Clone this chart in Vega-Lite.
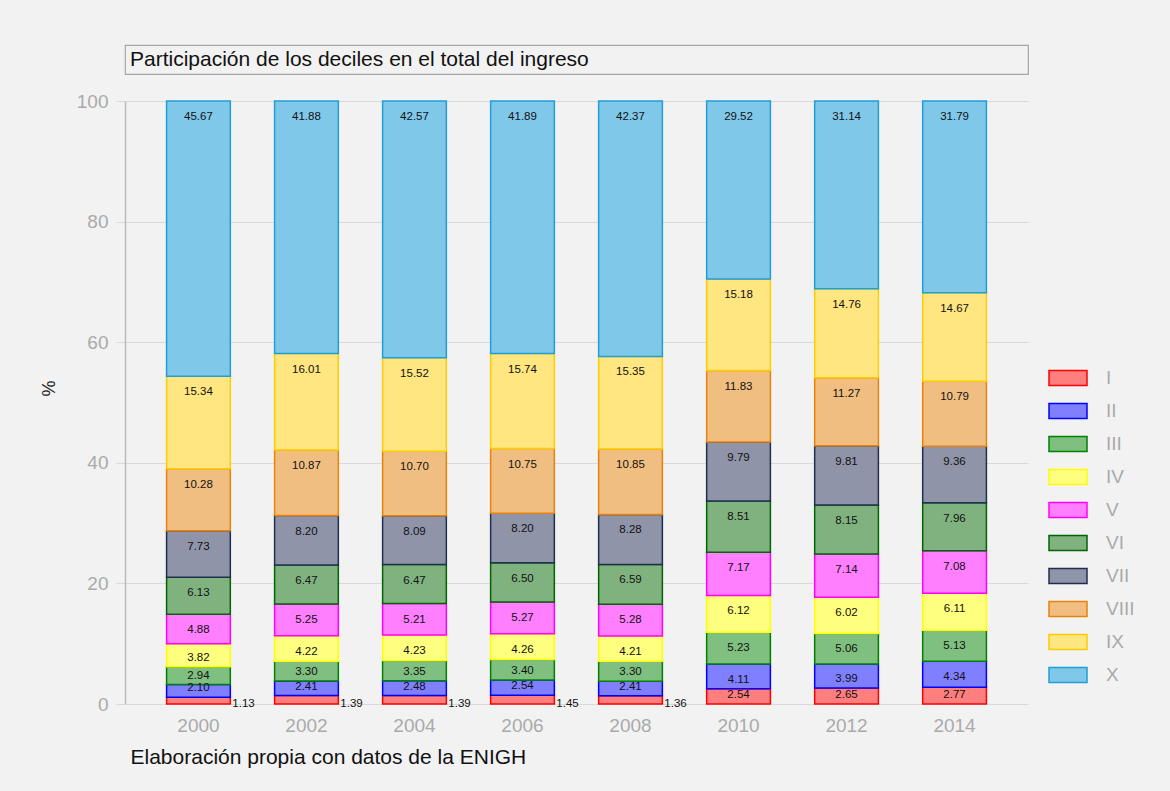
{
  "$schema": "https://vega.github.io/schema/vega-lite/v6.json",
  "background": "#f2f2f2",
  "padding": {"left": 40, "top": 44, "right": 35, "bottom": 24},
  "config": {
    "font": "Liberation Sans",
    "view": {"stroke": null}
  },
  "spacing": 17,
  "vconcat": [
    {
      "width": 903,
      "height": 29,
      "view": {"stroke": "#a6a6a6", "strokeWidth": 1.2},
      "data": {"values": [{"t": "Participación de los deciles en el total del ingreso"}]},
      "mark": {"type": "text", "align": "left", "baseline": "middle", "fontSize": 21, "color": "#111111", "dx": 5},
      "encoding": {
        "x": {"datum": 0, "type": "quantitative", "scale": {"domain": [0, 1]}, "axis": null},
        "text": {"field": "t"}
      }
    },
    {
      "width": 903,
      "height": 603,
      "data": {"values": [
        {"year": "2000", "decile": "I", "n": 1, "value": 1.13},
        {"year": "2000", "decile": "II", "n": 2, "value": 2.10},
        {"year": "2000", "decile": "III", "n": 3, "value": 2.94},
        {"year": "2000", "decile": "IV", "n": 4, "value": 3.82},
        {"year": "2000", "decile": "V", "n": 5, "value": 4.88},
        {"year": "2000", "decile": "VI", "n": 6, "value": 6.13},
        {"year": "2000", "decile": "VII", "n": 7, "value": 7.73},
        {"year": "2000", "decile": "VIII", "n": 8, "value": 10.28},
        {"year": "2000", "decile": "IX", "n": 9, "value": 15.34},
        {"year": "2000", "decile": "X", "n": 10, "value": 45.67},
        {"year": "2002", "decile": "I", "n": 1, "value": 1.39},
        {"year": "2002", "decile": "II", "n": 2, "value": 2.41},
        {"year": "2002", "decile": "III", "n": 3, "value": 3.30},
        {"year": "2002", "decile": "IV", "n": 4, "value": 4.22},
        {"year": "2002", "decile": "V", "n": 5, "value": 5.25},
        {"year": "2002", "decile": "VI", "n": 6, "value": 6.47},
        {"year": "2002", "decile": "VII", "n": 7, "value": 8.20},
        {"year": "2002", "decile": "VIII", "n": 8, "value": 10.87},
        {"year": "2002", "decile": "IX", "n": 9, "value": 16.01},
        {"year": "2002", "decile": "X", "n": 10, "value": 41.88},
        {"year": "2004", "decile": "I", "n": 1, "value": 1.39},
        {"year": "2004", "decile": "II", "n": 2, "value": 2.48},
        {"year": "2004", "decile": "III", "n": 3, "value": 3.35},
        {"year": "2004", "decile": "IV", "n": 4, "value": 4.23},
        {"year": "2004", "decile": "V", "n": 5, "value": 5.21},
        {"year": "2004", "decile": "VI", "n": 6, "value": 6.47},
        {"year": "2004", "decile": "VII", "n": 7, "value": 8.09},
        {"year": "2004", "decile": "VIII", "n": 8, "value": 10.70},
        {"year": "2004", "decile": "IX", "n": 9, "value": 15.52},
        {"year": "2004", "decile": "X", "n": 10, "value": 42.57},
        {"year": "2006", "decile": "I", "n": 1, "value": 1.45},
        {"year": "2006", "decile": "II", "n": 2, "value": 2.54},
        {"year": "2006", "decile": "III", "n": 3, "value": 3.40},
        {"year": "2006", "decile": "IV", "n": 4, "value": 4.26},
        {"year": "2006", "decile": "V", "n": 5, "value": 5.27},
        {"year": "2006", "decile": "VI", "n": 6, "value": 6.50},
        {"year": "2006", "decile": "VII", "n": 7, "value": 8.20},
        {"year": "2006", "decile": "VIII", "n": 8, "value": 10.75},
        {"year": "2006", "decile": "IX", "n": 9, "value": 15.74},
        {"year": "2006", "decile": "X", "n": 10, "value": 41.89},
        {"year": "2008", "decile": "I", "n": 1, "value": 1.36},
        {"year": "2008", "decile": "II", "n": 2, "value": 2.41},
        {"year": "2008", "decile": "III", "n": 3, "value": 3.30},
        {"year": "2008", "decile": "IV", "n": 4, "value": 4.21},
        {"year": "2008", "decile": "V", "n": 5, "value": 5.28},
        {"year": "2008", "decile": "VI", "n": 6, "value": 6.59},
        {"year": "2008", "decile": "VII", "n": 7, "value": 8.28},
        {"year": "2008", "decile": "VIII", "n": 8, "value": 10.85},
        {"year": "2008", "decile": "IX", "n": 9, "value": 15.35},
        {"year": "2008", "decile": "X", "n": 10, "value": 42.37},
        {"year": "2010", "decile": "I", "n": 1, "value": 2.54},
        {"year": "2010", "decile": "II", "n": 2, "value": 4.11},
        {"year": "2010", "decile": "III", "n": 3, "value": 5.23},
        {"year": "2010", "decile": "IV", "n": 4, "value": 6.12},
        {"year": "2010", "decile": "V", "n": 5, "value": 7.17},
        {"year": "2010", "decile": "VI", "n": 6, "value": 8.51},
        {"year": "2010", "decile": "VII", "n": 7, "value": 9.79},
        {"year": "2010", "decile": "VIII", "n": 8, "value": 11.83},
        {"year": "2010", "decile": "IX", "n": 9, "value": 15.18},
        {"year": "2010", "decile": "X", "n": 10, "value": 29.52},
        {"year": "2012", "decile": "I", "n": 1, "value": 2.65},
        {"year": "2012", "decile": "II", "n": 2, "value": 3.99},
        {"year": "2012", "decile": "III", "n": 3, "value": 5.06},
        {"year": "2012", "decile": "IV", "n": 4, "value": 6.02},
        {"year": "2012", "decile": "V", "n": 5, "value": 7.14},
        {"year": "2012", "decile": "VI", "n": 6, "value": 8.15},
        {"year": "2012", "decile": "VII", "n": 7, "value": 9.81},
        {"year": "2012", "decile": "VIII", "n": 8, "value": 11.27},
        {"year": "2012", "decile": "IX", "n": 9, "value": 14.76},
        {"year": "2012", "decile": "X", "n": 10, "value": 31.14},
        {"year": "2014", "decile": "I", "n": 1, "value": 2.77},
        {"year": "2014", "decile": "II", "n": 2, "value": 4.34},
        {"year": "2014", "decile": "III", "n": 3, "value": 5.13},
        {"year": "2014", "decile": "IV", "n": 4, "value": 6.11},
        {"year": "2014", "decile": "V", "n": 5, "value": 7.08},
        {"year": "2014", "decile": "VI", "n": 6, "value": 7.96},
        {"year": "2014", "decile": "VII", "n": 7, "value": 9.36},
        {"year": "2014", "decile": "VIII", "n": 8, "value": 10.79},
        {"year": "2014", "decile": "IX", "n": 9, "value": 14.67},
        {"year": "2014", "decile": "X", "n": 10, "value": 31.79}
      ]},
      "transform": [
        {"stack": "value", "groupby": ["year"], "sort": [{"field": "n", "order": "ascending"}], "as": ["y0", "y1"]}
      ],
      "encoding": {
        "x": {
          "field": "year", "type": "ordinal",
          "scale": {"paddingInner": 0.41, "paddingOuter": 0.385},
          "axis": {
            "labelAngle": 0, "labelColor": "#aaaaaa", "labelFontSize": 19, "labelPadding": 12,
            "ticks": false, "domain": false,
            "title": "Elaboración propia con datos de la ENIGH",
            "titleColor": "#111111", "titleFontSize": 21, "titleFontWeight": "normal",
            "titleAnchor": "start", "titleAlign": "left", "titleX": 5, "titlePadding": 11
          }
        }
      },
      "layer": [
        {
          "mark": {"type": "bar", "strokeWidth": 1.5},
          "encoding": {
            "y": {
              "field": "y1", "type": "quantitative",
              "scale": {"domain": [0, 100], "nice": false},
              "axis": {
                "values": [0, 20, 40, 60, 80, 100],
                "labelColor": "#aaaaaa", "labelFontSize": 19, "labelPadding": 8,
                "tickSize": 9, "tickColor": "#d9d9d9",
                "domainColor": "#bbbbbb", "domainWidth": 1.5,
                "gridColor": "#d9d9d9",
                "title": "%", "titleColor": "#222222", "titleFontSize": 18, "titleFontWeight": "normal", "titlePadding": 18, "titleY": 287
              }
            },
            "y2": {"field": "y0"},
            "fill": {
              "field": "decile", "type": "nominal",
              "scale": {
                "domain": ["I", "II", "III", "IV", "V", "VI", "VII", "VIII", "IX", "X"],
                "range": ["#ff7f7f", "#7f7fff", "#7fbf7f", "#ffff7f", "#ff7fff", "#80b280", "#8f94a8", "#f0be80", "#ffe680", "#80c8ea"]
              },
              "legend": {
                "title": null, "orient": "none", "legendX": 923, "legendY": 313,
                "symbolType": "M-1,-0.4H1V0.4H-1Z", "symbolSize": 1444, "symbolStrokeWidth": 1.5,
                "labelColor": "#aaaaaa", "labelFontSize": 19, "labelOffset": 18, "rowPadding": 2
              }
            },
            "stroke": {
              "field": "decile", "type": "nominal",
              "scale": {
                "domain": ["I", "II", "III", "IV", "V", "VI", "VII", "VIII", "IX", "X"],
                "range": ["#ff0000", "#0000ff", "#008000", "#ffff00", "#ff00ff", "#006400", "#1f2f50", "#e8820a", "#ffcc00", "#1f9fd8"]
              },
              "legend": {
                "title": null, "orient": "none", "legendX": 923, "legendY": 313,
                "symbolType": "M-1,-0.4H1V0.4H-1Z", "symbolSize": 1444, "symbolStrokeWidth": 1.5,
                "labelColor": "#aaaaaa", "labelFontSize": 19, "labelOffset": 18, "rowPadding": 2
              }
            }
          }
        },
        {
          "transform": [{"filter": "datum.value >= 4.15"}],
          "mark": {"type": "text", "fontSize": 11.5, "color": "#111111", "baseline": "middle", "dy": 16},
          "encoding": {
            "y": {"field": "y1", "type": "quantitative"},
            "text": {"field": "value", "type": "quantitative", "format": ".2f"}
          }
        },
        {
          "transform": [{"filter": "datum.value > 1.5 && datum.value < 4.15"}],
          "mark": {"type": "text", "fontSize": 11.5, "color": "#111111", "baseline": "middle", "dy": -9},
          "encoding": {
            "y": {"field": "y0", "type": "quantitative"},
            "text": {"field": "value", "type": "quantitative", "format": ".2f"}
          }
        },
        {
          "transform": [{"filter": "datum.value <= 1.5"}],
          "mark": {"type": "text", "fontSize": 11.5, "color": "#111111", "baseline": "middle", "align": "left", "dx": 2, "dy": 0},
          "encoding": {
            "x": {"field": "year", "type": "ordinal", "bandPosition": 1},
            "y": {"field": "y0", "type": "quantitative"},
            "text": {"field": "value", "type": "quantitative", "format": ".2f"}
          }
        }
      ]
    }
  ]
}
